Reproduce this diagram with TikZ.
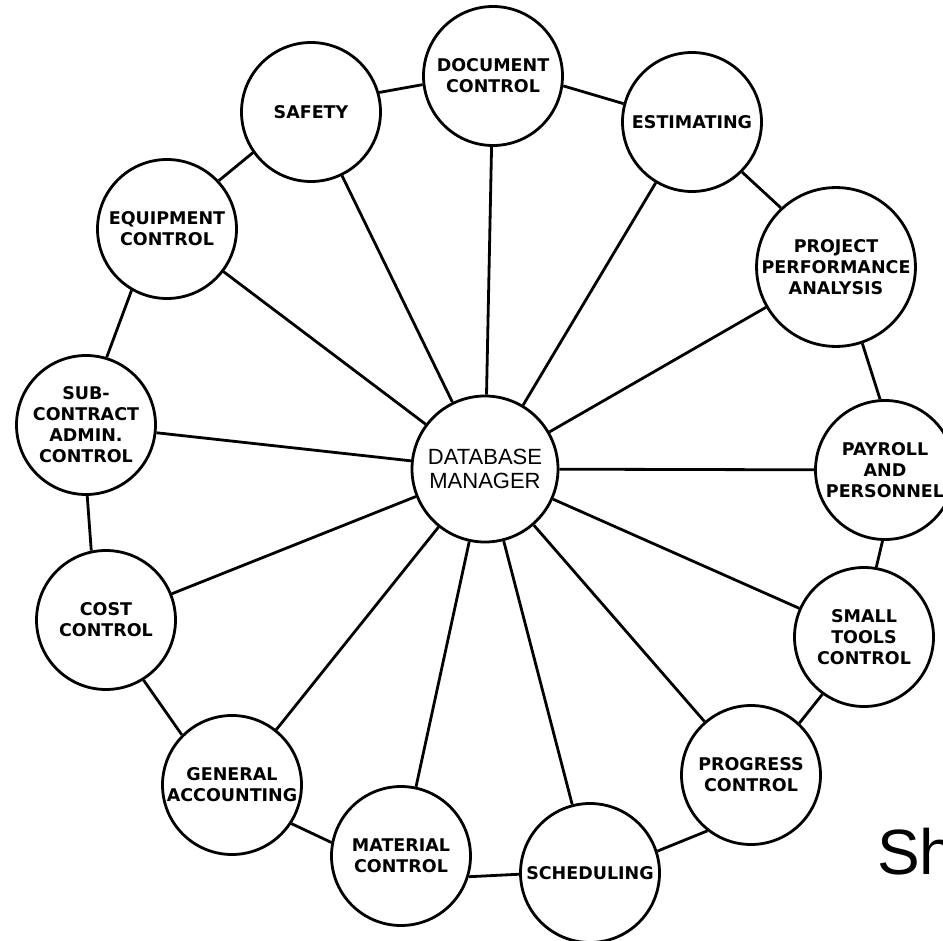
\documentclass[tikz,border=0pt]{standalone}
\usepackage{fontspec}
\setmainfont{DejaVu Sans}
\newfontfamily\hubfont{Liberation Sans}
\begin{document}
\begin{tikzpicture}[x=1pt,y=-1pt,
  unit/.style={circle,draw,line width=2.8pt,fill=white,minimum size=139pt,
    inner sep=0pt,align=center,font=\bfseries\fontsize{17.5}{21}\selectfont},
  hub/.style={unit,minimum size=146pt,font=\hubfont\fontsize{22}{24}\selectfont},
  link/.style={line width=2.8pt}]
\useasboundingbox (0,0) rectangle (943,941);
\clip (0,0) rectangle (943,941);

% central database and the surrounding modules
\node[hub]  (db)    at (485,469) {DATABASE\\MANAGER};
\node[unit] (doc)   at (493,76)  {DOCUMENT\\CONTROL};
\node[unit] (est)   at (692,122) {ESTIMATING};
\node[unit] (proj)  at (836,267) {PROJECT\\PERFORMANCE\\ANALYSIS};
\node[unit] (pay)   at (885,470) {PAYROLL\\AND\\PERSONNEL};
\node[unit] (tools) at (864,637) {SMALL\\TOOLS\\CONTROL};
\node[unit] (prog)  at (751,775) {PROGRESS\\CONTROL};
\node[unit] (sched) at (590,873) {SCHEDULING};
\node[unit] (mat)   at (401,856) {MATERIAL\\CONTROL};
\node[unit] (gen)   at (232,785) {GENERAL\\ACCOUNTING};
\node[unit] (cost)  at (106,620) {COST\\CONTROL};
\node[unit] (sub)   at (86,425)  {SUB-\\CONTRACT\\ADMIN.\\CONTROL};
\node[unit] (equip) at (167,229) {EQUIPMENT\\CONTROL};
\node[unit] (saf)   at (311,112) {SAFETY};

% spokes from the database to every module
\foreach \m in {doc,est,proj,pay,tools,prog,sched,mat,gen,cost,sub,equip,saf}
  \draw[link] (db) -- (\m);

% ring of links between neighbouring modules
\draw[link] (saf.16)     -- (doc.-173);
\draw[link] (doc.-8)     -- (est.165);
\draw[link] (est.-45)    -- (proj.133);
\draw[link] (proj.-71)   -- (pay.94);
\draw[link] (pay.-92)    -- (tools.80);
\draw[link] (tools.-126) -- (prog.47);
\draw[link] (prog.-128)  -- (sched.18);
\draw[link] (sched.181)  -- (mat.-17);
\draw[link] (mat.169)    -- (gen.-33);
\draw[link] (gen.135)    -- (cost.-58);
\draw[link] (cost.102)   -- (sub.-89);
\draw[link] (sub.73)     -- (equip.-120);
\draw[link] (equip.43)   -- (saf.-145);

\node[anchor=base west,inner sep=0pt,font=\hubfont\fontsize{64}{64}\selectfont]
  (caption) at (877,874) {Sh};
\end{tikzpicture}
\end{document}
